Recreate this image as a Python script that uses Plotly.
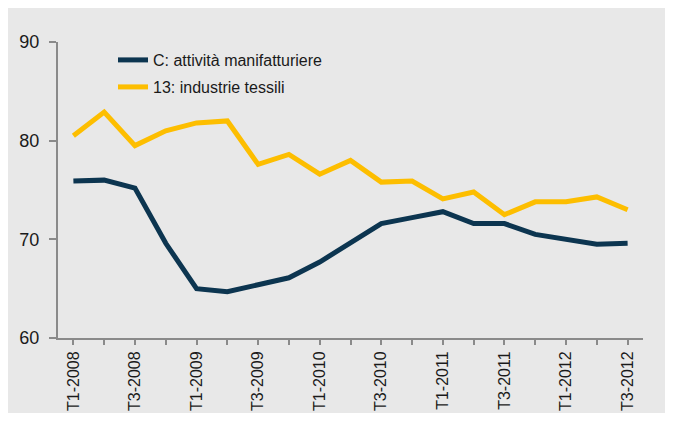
import plotly.graph_objects as go

quarters = ["T1-2008", "T2-2008", "T3-2008", "T4-2008",
            "T1-2009", "T2-2009", "T3-2009", "T4-2009",
            "T1-2010", "T2-2010", "T3-2010", "T4-2010",
            "T1-2011", "T2-2011", "T3-2011", "T4-2011",
            "T1-2012", "T2-2012", "T3-2012"]

manifattura = [75.9, 76.0, 75.2, 69.6, 65.0, 64.7, 65.4, 66.1, 67.7, 69.7,
               71.6, 72.2, 72.8, 71.6, 71.6, 70.5, 70.0, 69.5, 69.6]
tessili = [80.5, 82.9, 79.5, 81.0, 81.8, 82.0, 77.6, 78.6, 76.6, 78.0,
           75.8, 75.9, 74.1, 74.8, 72.5, 73.8, 73.8, 74.3, 73.0]

name_c = "C: attività manifatturiere"
name_13 = "13: industrie tessili"
tick_text = [q if q.startswith(("T1", "T3")) else "" for q in quarters]

FONT = "Liberation Sans, Arial, sans-serif"
NAVY = "#0c3550"
GOLD = "#fdbe00"
AXIS = "#8a8a8a"

fig = go.Figure()
fig.add_trace(go.Scatter(x=quarters, y=manifattura, name=name_c, mode="lines",
                         line=dict(color=NAVY, width=5), legend="legend"))
fig.add_trace(go.Scatter(x=quarters, y=tessili, name=name_13, mode="lines",
                         line=dict(color=GOLD, width=5), legend="legend2"))

# page has an 8px body margin, so the figure is 16px smaller than the window
W, H = 657, 405
L, R, T, B = 50, 22, 34, 75
pw, ph = W - L - R, H - T - B

def px(x):
    return (x - L) / pw

def py(y):
    return (H - B - y) / ph

fig.add_shape(type="rect", xref="paper", yref="paper",
              x0=px(-3), x1=px(W + 10), y0=py(H + 10), y1=py(-1),
              fillcolor="#e8e8e8", line=dict(width=0), layer="below")

fig.update_layout(
    width=W, height=H,
    margin=dict(l=L, r=R, t=T, b=B, autoexpand=False),
    paper_bgcolor="white",
    plot_bgcolor="rgba(0,0,0,0)",
    font=dict(family=FONT, size=16, color="#1a1a1a"),
    legend=dict(x=px(105), y=py(52), xanchor="left", yanchor="middle",
                bgcolor="rgba(0,0,0,0)", font=dict(size=16)),
    legend2=dict(x=px(105), y=py(79), xanchor="left", yanchor="middle",
                 bgcolor="rgba(0,0,0,0)", font=dict(size=16)),
    showlegend=True,
)

fig.update_xaxes(
    type="category", range=[-0.5, 18.5],
    tickmode="array", tickvals=quarters, ticktext=tick_text,
    tickangle=-90, tickfont=dict(size=16, family=FONT),
    showgrid=False, zeroline=False, automargin=False,
    showline=True, linecolor=AXIS, linewidth=2,
    ticks="outside", ticklen=5, tickwidth=1.5, tickcolor=AXIS,
    ticklabelstandoff=0,
)
fig.update_yaxes(
    range=[60, 90], tickvals=[60, 70, 80, 90],
    tickfont=dict(size=18, family=FONT),
    showgrid=False, zeroline=False, automargin=False,
    showline=True, linecolor=AXIS, linewidth=2,
    ticks="outside", ticklen=7, tickwidth=1.5, tickcolor=AXIS,
    ticklabelstandoff=6,
)

fig.write_html("out.html")
